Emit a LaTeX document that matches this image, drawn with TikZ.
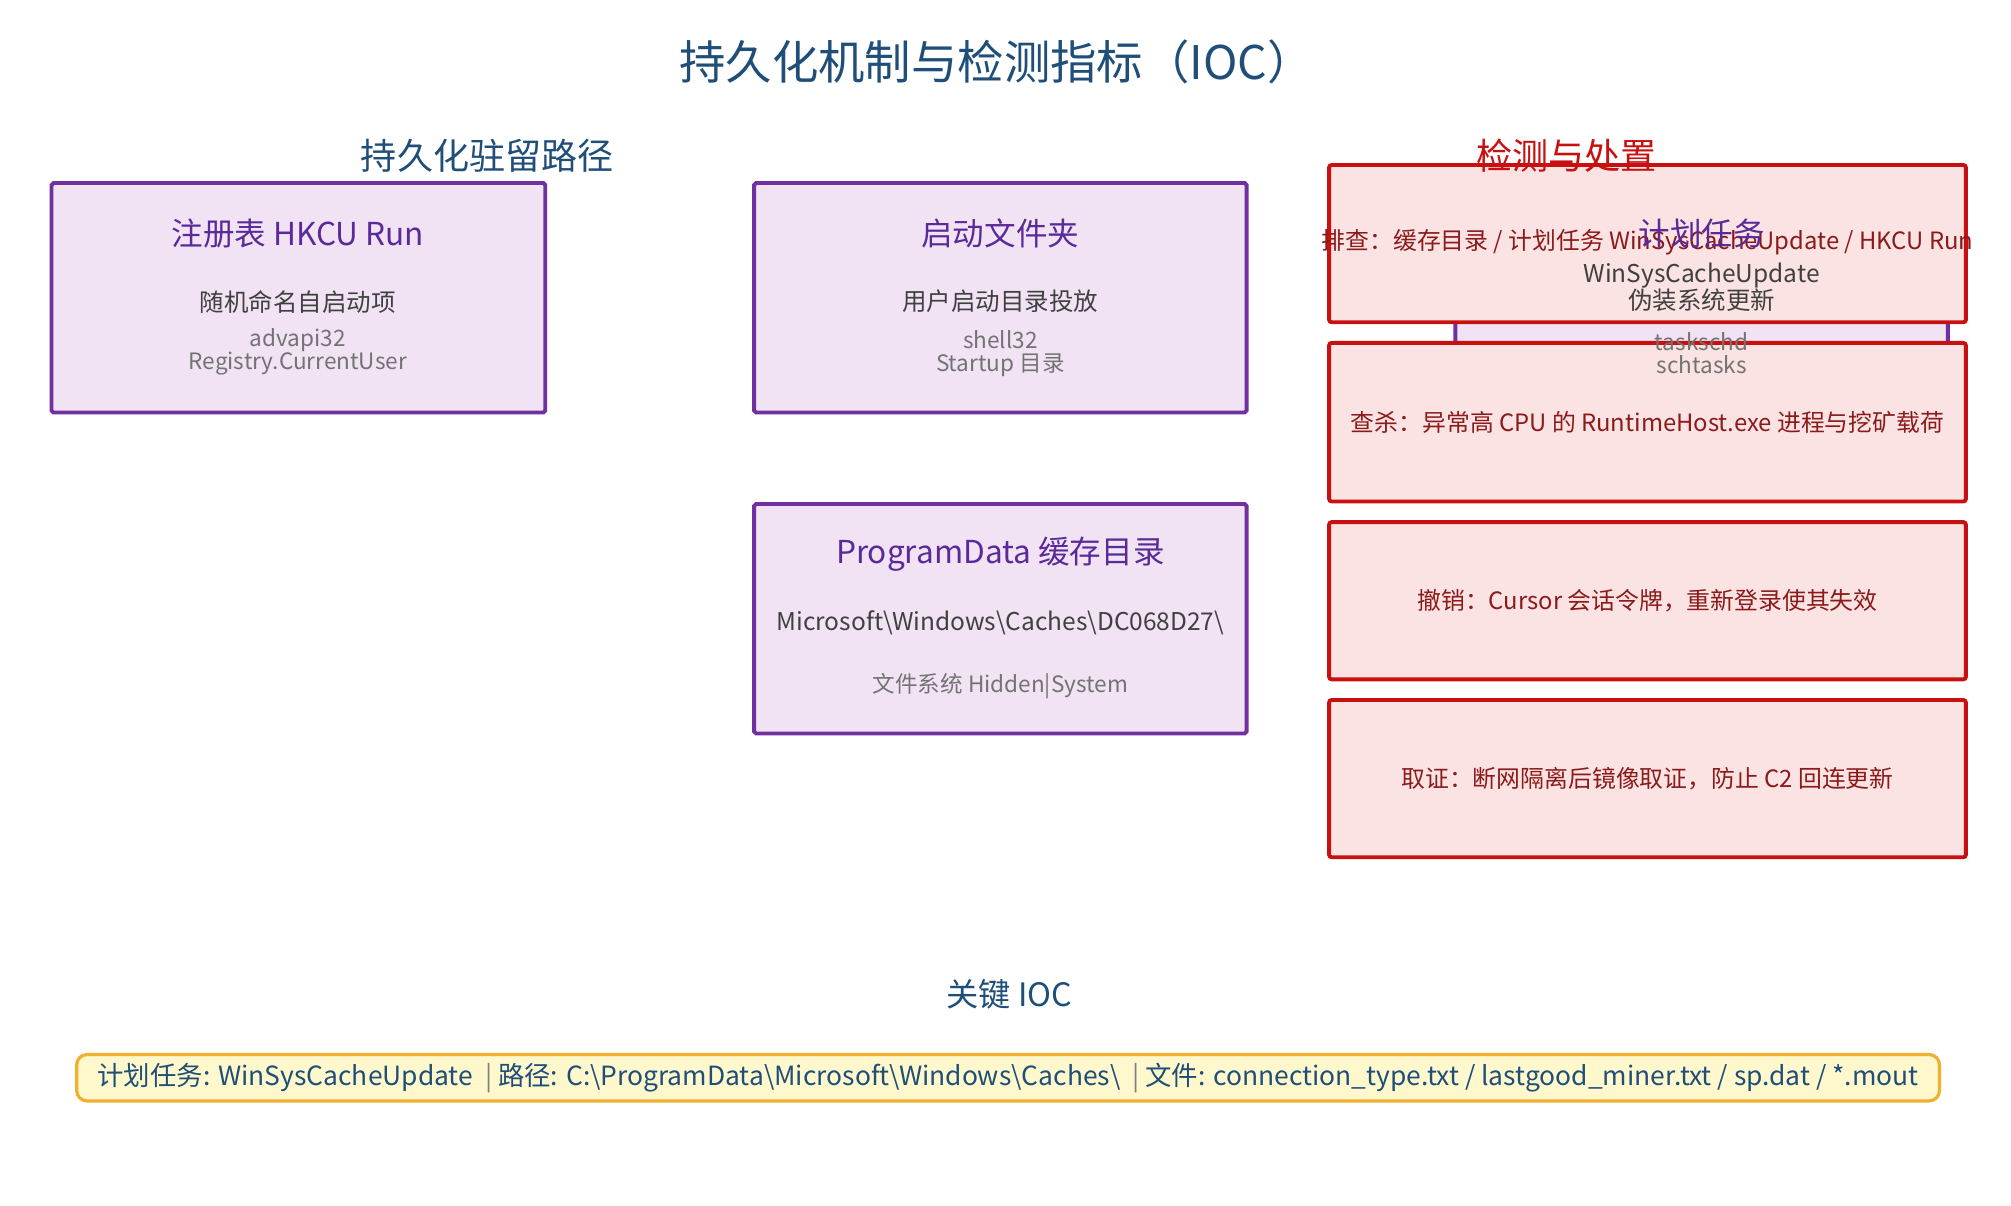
\documentclass[tikz,border=0pt]{standalone}
\usepackage{fontspec}
\setmainfont{Noto Sans CJK SC}
\begin{document}
\begin{tikzpicture}[x=1pt,y=-1pt,
 pbox/.style={draw=pborder,fill=pfill,line width=3pt,rounded corners=1.5pt},
 rbox/.style={draw=rborder,fill=rfill,line width=3pt,rounded corners=2pt},
 ptitle/.style={text=ptext,font=\fontsize{24.5}{28}\selectfont},
 psub/.style={text=black!75,font=\fontsize{19}{22}\selectfont},
 pnote/.style={text=black!55,font=\fontsize{17.5}{18}\selectfont,align=center},
 rtext/.style={text=rtext,font=\fontsize{18.5}{21}\selectfont},
 head/.style={text=hblue,font=\fontsize{28}{32}\selectfont}]
\definecolor{pborder}{HTML}{7030A0}\definecolor{pfill}{HTML}{F1E3F4}
\definecolor{ptext}{HTML}{5B2A9A}\definecolor{rborder}{HTML}{C81010}
\definecolor{rfill}{HTML}{FBE3E3}\definecolor{rtext}{HTML}{8B1A1A}
\definecolor{hblue}{HTML}{1F4E79}\definecolor{yfill}{HTML}{FFF8CC}\definecolor{yborder}{HTML}{F0B030}
\useasboundingbox (0,0) rectangle (1560,935);
\node[head,font=\fontsize{36}{40}\selectfont] (title) at (773,48) {持久化机制与检测指标（IOC）};
\node[head] (h1) at (378,121) {持久化驻留路径};
% box 1
\draw[pbox] (40,142) rectangle (423,320);
\node[ptitle] (t1) at (231,181) {注册表 HKCU Run};
\node[psub] (s1) at (231,234) {随机命名自启动项};
\node[pnote] (n1) at (231,273) {advapi32\\Registry.CurrentUser};
% box 2
\draw[pbox] (585,142) rectangle (967,320);
\node[ptitle] (t2) at (776,181) {启动文件夹};
\node[psub] (s2) at (776,234) {用户启动目录投放};
\node[pnote] (n2) at (776,274) {shell32\\Startup 目录};
% box 3
\draw[pbox] (585,391) rectangle (967,569);
\node[ptitle] (t3) at (776,430) {ProgramData 缓存目录};
\node[psub] (s3) at (776,483) {Microsoft\textbackslash Windows\textbackslash Caches\textbackslash DC068D27\textbackslash};
\node[pnote] (n3) at (776,532) {文件系统 Hidden|System};
% box 4 (hidden)
\draw[pbox] (1129,142) rectangle (1511,320);
% red boxes
\draw[rbox] (1031,128) rectangle (1525,250);
\draw[rbox] (1031,266) rectangle (1525,389);
\draw[rbox] (1031,405) rectangle (1525,527);
\draw[rbox] (1031,543) rectangle (1525,665);
\node[text=rborder,font=\fontsize{28}{32}\selectfont] (h2) at (1215,121) {检测与处置};
\node[rtext] (r1) at (1278,188) {排查：缓存目录 / 计划任务 WinSysCacheUpdate / HKCU Run};
\node[rtext] (r2) at (1278,328) {查杀：异常高 CPU 的 RuntimeHost.exe 进程与挖矿载荷};
\node[rtext] (r3) at (1278,466) {撤销：Cursor 会话令牌，重新登录使其失效};
\node[rtext] (r4) at (1278,604) {取证：断网隔离后镜像取证，防止 C2 回连更新};
\node[ptitle] (t4) at (1320,181) {计划任务};
\node[pnote,text=black!75,font=\fontsize{19}{21}\selectfont] (s4) at (1320,223) {WinSysCacheUpdate\\伪装系统更新};
\node[pnote] (n4) at (1320,274) {taskschd\\schtasks};
% IOC
\node[head,font=\fontsize{25}{28}\selectfont] (h3) at (783,771) {关键 IOC};
\node[draw=yborder,fill=yfill,line width=2.5pt,rounded corners=8pt,minimum width=1445,minimum height=36,inner sep=0pt,text=hblue,font=\fontsize{20.5}{22}\selectfont] (ioc) at (782,836) {计划任务: WinSysCacheUpdate \ {\color{black!50}|}\ 路径: C:\textbackslash ProgramData\textbackslash Microsoft\textbackslash Windows\textbackslash Caches\textbackslash\ \ {\color{black!50}|}\ 文件: connection\_type.txt / lastgood\_miner.txt / sp.dat / *.mout};
\end{tikzpicture}
\end{document}
